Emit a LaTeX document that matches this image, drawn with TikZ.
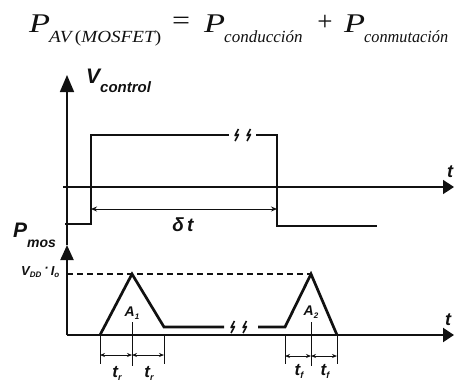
\documentclass[tikz,border=0pt]{standalone}
\usepackage{fontspec}
\setmainfont{Liberation Serif}
\setsansfont{Liberation Sans}
\usepackage{xcolor}
\usepackage{graphicx}
\usetikzlibrary{arrows.meta}
\definecolor{ScanInk}{HTML}{111111}
\definecolor{ScanPaper}{HTML}{FFFFFF}
\newcommand{\breakmark}[2]{%
  \draw[ScanInk, line width=1.6pt, line join=round] (#1+2.5,#2-6) -- (#1-1,#2+0.5) -- (#1+2.5,#2-0.5) -- (#1-1,#2+6);}
\newcommand{\wideit}[2]{\resizebox{#1pt}{\height}{\itshape #2}}

\begin{document}
\begin{tikzpicture}[x=1pt,y=-1pt]
        \fill[ScanPaper] (0,0) rectangle (454,389);
        \useasboundingbox (0,0) rectangle (454,389);
        \tikzset{
          axisline/.style={ScanInk, line width=1.6pt},
          signal/.style={ScanInk, line width=2.7pt, line join=miter},
          dimline/.style={ScanInk, line width=0.9pt},
          lbl/.style={ScanInk, inner sep=0pt, font=\sffamily\bfseries\itshape},
          eqmain/.style={ScanInk, inner sep=0pt, anchor=base west, font=\fontsize{27}{29}\selectfont},
          eqsub/.style={ScanInk, inner sep=0pt, anchor=base west, font=\fontsize{17}{19}\selectfont}
        }
        \node[eqmain] (pav) at (29,32) {\wideit{21}{P}};
        \node[eqsub] (subav) at (49,42) {\resizebox{112pt}{\height}{\itshape AV\,\upshape(\itshape MOSFET\upshape)}};
        \node[eqmain, anchor=center] (eqsign) at (181,23) {\resizebox{18pt}{\height}{=}};
        \node[eqmain] (pcond) at (204,32) {\wideit{21}{P}};
        \node[eqsub] (subcond) at (224,42) {\itshape conducción};
        \node[eqmain, anchor=center] (plus) at (325,23) {+};
        \node[eqmain] (pconm) at (344,32) {\wideit{21}{P}};
        \node[eqsub] (subconm) at (364,42) {\wideit{84}{conmutación}};
        \coordinate (vtop) at (67,75);
        \coordinate (ptop) at (67,245);
        \coordinate (origin) at (67,335);
        \coordinate (tend) at (454,335);
        \coordinate (vaxl) at (63,187);
        \coordinate (vaxr) at (454,187);
        \draw[axisline, -{Triangle[length=17pt,width=14pt]}] (ptop) -- (vtop);
        \draw[axisline, line width=2pt, -{Triangle[length=15pt,width=13pt]}] (origin) -- (ptop);
        \draw[axisline, -{Triangle[length=11pt,width=14pt]}] (vaxl) -- (vaxr);
        \draw[axisline, line width=2pt, -{Triangle[length=11pt,width=14pt]}] (origin) -- (tend);
        \node[lbl, font=\sffamily\bfseries\itshape\fontsize{18}{18}\selectfont] (tup) at (450,172) {t};
        \node[lbl, font=\sffamily\bfseries\itshape\fontsize{18}{18}\selectfont] (tdown) at (448,320) {t};
        \node[lbl, anchor=base west] (vctl) at (86,83) {\fontsize{21}{22}\selectfont V\raisebox{-9pt}{\fontsize{15}{16}\selectfont control}};
        \node[lbl, anchor=base west] (pmos) at (13,237) {\fontsize{21}{22}\selectfont P\raisebox{-10pt}{\fontsize{14}{15}\selectfont mos}};
        \node[lbl, anchor=base west] (vdd) at (21,275) {\fontsize{13}{14}\selectfont V\raisebox{-2.5pt}{\fontsize{8}{9}\selectfont DD}\hspace{3pt}\raisebox{3pt}{·}\hspace{2pt}I\raisebox{-2.5pt}{\fontsize{8}{9}\selectfont o}};
        \draw[signal] (65,224) -- (91,224) -- (91,135) -- (229,135);
        \draw[signal] (256,135) -- (277,135) -- (277,226) -- (377,226);
        \foreach \x in {236,248} {\breakmark{\x}{135}}
        \draw[dimline, {Stealth[length=6pt,width=5pt]}-{Stealth[length=6pt,width=5pt]}] (91,209) -- (277,209);
        \node[lbl, font=\sffamily\bfseries\itshape\fontsize{19}{19}\selectfont] (delta) at (183,225) {δ\,t};
        \draw[ScanInk, line width=1.2pt, dash pattern=on 6pt off 4pt] (ptop |- 0,274) -- (311,274);
        \draw[signal] (100,335) -- (132,274) -- (164,327) -- (224,327);
        \draw[signal] (258,327) -- (285,327) -- (311,274) -- (337,335);
        \foreach \x in {232,244} {\breakmark{\x}{327}}
        \foreach \x in {100,164,285,337} {\draw[dimline] (\x,335) -- (\x,364);}
        \foreach \x in {132,311} {\draw[dimline] (\x,322) -- (\x,366);}
        \draw[dimline, {Stealth[length=5pt,width=4pt]}-{Stealth[length=5pt,width=4pt]}] (100,355) -- (132,355);
        \draw[dimline, {Stealth[length=5pt,width=4pt]}-{Stealth[length=5pt,width=4pt]}] (132,355) -- (164,355);
        \draw[dimline, {Stealth[length=5pt,width=4pt]}-{Stealth[length=5pt,width=4pt]}] (285,356) -- (311,356);
        \draw[dimline, {Stealth[length=5pt,width=4pt]}-{Stealth[length=5pt,width=4pt]}] (311,356) -- (337,356);
        \node[lbl] (aone) at (132,313) {\fontsize{14}{14}\selectfont A\raisebox{-3pt}{\fontsize{8}{8}\selectfont 1}};
        \node[lbl] (atwo) at (311,312) {\fontsize{14}{14}\selectfont A\raisebox{-3pt}{\fontsize{8}{8}\selectfont 2}};
        \node[lbl] (trone) at (117,373) {\fontsize{17}{17}\selectfont t\raisebox{-3pt}{\fontsize{9}{9}\selectfont r}};
        \node[lbl] (trtwo) at (149,373) {\fontsize{17}{17}\selectfont t\raisebox{-3pt}{\fontsize{9}{9}\selectfont r}};
        \node[lbl] (tfone) at (299,371) {\fontsize{17}{17}\selectfont t\raisebox{-3pt}{\fontsize{9}{9}\selectfont f}};
        \node[lbl] (tftwo) at (325,371) {\fontsize{17}{17}\selectfont t\raisebox{-3pt}{\fontsize{9}{9}\selectfont f}};
      \end{tikzpicture}
\end{document}
